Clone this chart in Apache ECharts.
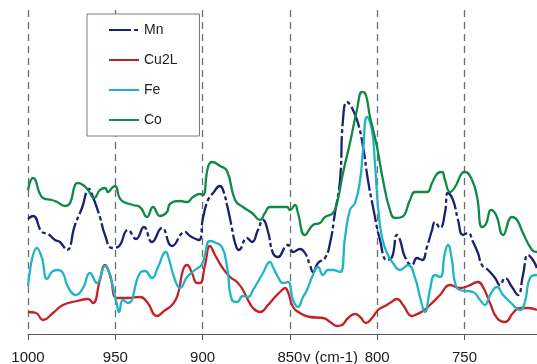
<!DOCTYPE html>
<html>
<head>
<meta charset="utf-8">
<script src="https://cdn.jsdelivr.net/npm/echarts@6/dist/echarts.min.js"></script>
<style>
html,body{margin:0;padding:0;background:#fff;overflow:hidden;width:537px;height:364px;}
#chart{width:552px;height:364px;}
</style>
</head>
<body>
<div id="chart"></div>
<script>
// Wavenumber ticks
const tickLabels = ['1000', '950', '900', '850', '800', '750'];
const seriesNames = ['Mn', 'Cu2L', 'Fe', 'Co'];
const axisTitle = 'v (cm-1)';

// [wavenumber (cm-1), intensity (arb. units)]
const mnData = [
  [1000,115],[997.1,118],[992.0,102],[988.5,100],[984.5,94],[981.7,92],[977.7,84],[973.1,109],
  [969.1,126],[965.1,145],[962.8,137],[958.8,117],[955.9,99],[951.9,86],[948.5,87],[942.7,104],
  [938.1,95],[933.6,107],[929.0,92],[923.3,106],[917.5,88],[910.1,102],[907.2,98],[902.1,94],
  [899.8,116],[896.9,134],[894.0,141],[890.0,148],[888.3,144],[886.0,129],[883.2,106],[881.4,91],
  [879.2,84],[874.6,96],[871.7,92],[868.3,104],[865.4,114],[862.5,102],[859.7,81],[856.8,77],
  [852.8,87],[851.1,89],[848.2,82],[844.2,85],[841.4,81],[838.5,69],[836.8,62],[833.9,71],
  [829.9,76],[827.0,91],[824.2,121],[821.3,154],[819.6,214],[817.3,232],[814.4,226],[811.0,211],
  [808.1,187],[805.3,154],[802.4,127],[798.4,94],[794.4,74],[791.5,77],[788.7,99],[786.9,94],
  [784.1,77],[780.1,69],[777.2,76],[774.3,74],[771.5,87],[768.6,104],[766.9,112],[764.0,106],
  [761.2,121],[759.5,141],[756.6,134],[753.7,114],[750.9,99],[748.0,101],[745.1,92],[742.3,81],
  [740.0,69],[736.5,64],[732.5,56],[729.7,49],[726.8,56],[722.8,47],[719.4,39],[716.5,59],
  [713.6,79],[710.8,74],[708.5,66]
];
const cu2lData = [
  [1000,22],[995.4,21],[991.4,14],[985.7,21],[980.0,29],[971.9,33],[965.6,35],[962.8,31],
  [958.8,54],[955.9,69],[953.0,59],[949.0,36],[943.3,36],[935.9,37],[931.8,32],[926.1,18],
  [922.1,23],[917.0,30],[914.1,40],[911.2,64],[908.9,69],[906.1,61],[903.2,51],[901.5,51],
  [898.6,69],[895.8,88],[892.9,79],[888.9,67],[884.3,57],[880.3,52],[876.9,44],[874.0,34],
  [871.1,26],[867.1,22],[862.5,29],[858.5,37],[854.5,44],[852.8,46],[851.1,42],[848.2,27],
  [844.2,21],[838.5,17],[831.0,16],[827.0,12],[823.0,8],[820.2,9],[816.7,16],[812.7,20],
  [809.8,17],[806.4,11],[803.0,16],[799.5,24],[796.7,27],[792.7,31],[788.7,35],[785.2,29],
  [780.1,18],[778.3,19],[773.8,23],[769.8,29],[764.0,39],[758.3,49],[752.6,46],[748.0,48],
  [742.3,52],[739.4,47],[735.4,31],[731.4,16],[726.8,12],[722.2,21],[718.2,26],[713.6,26],
  [708.5,24]
];
const feData = [
  [1000,48],[994.8,86],[992.0,76],[989.1,55],[985.7,63],[982.8,64],[980.0,61],[977.1,47],
  [972.5,39],[968.5,46],[964.5,61],[960.5,51],[955.9,68],[953.0,58],[949.0,29],[947.9,22],
  [945.6,34],[942.7,31],[935.9,61],[933.0,63],[929.0,56],[925.5,67],[921.0,82],[919.8,78],
  [915.8,54],[912.9,46],[908.9,57],[904.4,64],[900.3,70],[895.8,93],[893.5,92],[888.9,87],
  [886.0,67],[883.2,34],[880.3,32],[876.9,38],[874.0,37],[871.1,44],[865.4,61],[861.4,72],
  [859.7,67],[856.8,57],[853.9,51],[851.1,52],[848.2,34],[845.4,27],[842.5,37],[840.2,44],
  [836.8,59],[833.9,67],[831.0,59],[828.2,64],[825.3,64],[821.3,62],[818.4,97],[815.6,124],
  [812.7,131],[809.8,154],[808.1,184],[805.8,217],[803.0,204],[801.3,171],[799.5,127],[797.3,97],
  [794.4,81],[791.0,71],[786.9,64],[782.4,69],[778.3,56],[775.5,37],[772.6,22],[769.8,44],
  [766.9,59],[764.0,57],[761.2,81],[759.5,89],[757.2,74],[755.4,51],[752.6,44],[745.1,42],
  [741.1,34],[738.3,29],[735.4,39],[731.4,47],[727.9,39],[723.9,32],[718.2,24],[715.4,32],
  [712.5,56],[708.5,59]
];
const coData = [
  [1000,144],[997.1,156],[991.4,136],[986.3,134],[983.4,132],[978.8,128],[975.9,131],[973.1,149],
  [971.4,151],[968.5,149],[965.6,144],[962.2,136],[958.8,144],[955.9,146],[954.2,142],[951.9,146],
  [950.2,148],[946.7,134],[939.9,129],[935.9,127],[931.8,117],[928.4,127],[924.4,118],[920.4,122],
  [918.7,130],[912.9,133],[908.9,132],[905.5,137],[901.5,140],[899.8,139],[896.9,167],[894.6,172],
  [890.0,168],[886.0,163],[881.4,134],[876.9,127],[871.7,121],[867.1,114],[864.3,121],[861.4,127],
  [851.7,127],[849.9,124],[847.1,129],[845.4,121],[841.4,99],[836.8,109],[832.8,111],[829.9,117],
  [825.3,121],[823.0,131],[819.6,161],[815.6,191],[811.6,224],[808.7,242],[807.0,241],[804.1,217],
  [800.1,187],[796.7,154],[792.7,124],[789.8,116],[785.8,117],[781.2,134],[778.3,142],[771.5,142],
  [768.6,151],[765.2,161],[762.9,162],[761.2,154],[758.3,142],[755.4,147],[751.4,161],[749.7,162],
  [745.7,154],[742.8,137],[740.0,107],[737.7,110],[734.8,124],[731.9,119],[727.9,99],[722.8,117],
  [719.9,114],[716.5,101],[711.3,84],[708.5,82]
];

const colors = ['#1b2070', '#c42127', '#1fb5c5', '#0f8a44'];
const allData = [mnData, cu2lData, feData, coData];

const chart = echarts.init(document.getElementById('chart'), null, {renderer: 'canvas'});
const font = '"Liberation Sans", Arial, sans-serif';

chart.setOption({
  animation: false,
  backgroundColor: '#fff',
  grid: {left: 28, right: 0.2, top: 10, bottom: 30, containLabel: false, outerBoundsMode: 'none'},
  legend: {
    data: seriesNames,
    orient: 'vertical',
    left: 87, top: 14,
    padding: [9, 22, 9, 21],
    itemWidth: 30, itemHeight: 14, itemGap: 16,
    backgroundColor: '#fff',
    borderColor: '#7a7a7a', borderWidth: 1,
    itemStyle: {color: 'rgba(0,0,0,0)', borderColor: 'rgba(0,0,0,0)', borderWidth: 0},
    textStyle: {fontFamily: font, fontSize: 14, color: '#222'}
  },
  xAxis: {
    type: 'value',
    min: 700, max: 1000, interval: 50,
    inverse: true,
    axisLine: {show: true, lineStyle: {color: '#555', width: 1}},
    axisTick: {show: true, length: 6, lineStyle: {color: '#555'}},
    axisLabel: {
      fontFamily: font, fontSize: 15, color: '#1a1a1a', margin: 16,
      formatter: function (v) { const s = String(v); return tickLabels.indexOf(s) >= 0 ? s : ''; }
    },
    splitLine: {show: true, lineStyle: {color: '#6e6e6e', width: 1.3, type: [7, 5]}}
  },
  yAxis: {
    type: 'value', min: 0, max: 324, show: false,
    splitLine: {show: false}
  },
  graphic: [{
    type: 'text', left: 303, top: 350,
    style: {text: axisTitle, font: '15px ' + font, fill: '#1a1a1a'}
  }],
  series: seriesNames.map(function (name, i) {
    return {
      name: name, type: 'line', data: allData[i],
      smooth: 0.5, symbol: 'none', showSymbol: false,
      color: colors[i],
      lineStyle: {color: colors[i], width: 2.3, type: i === 0 ? [22, 3, 4, 3] : 'solid'}
    };
  })
});
</script>
</body>
</html>
